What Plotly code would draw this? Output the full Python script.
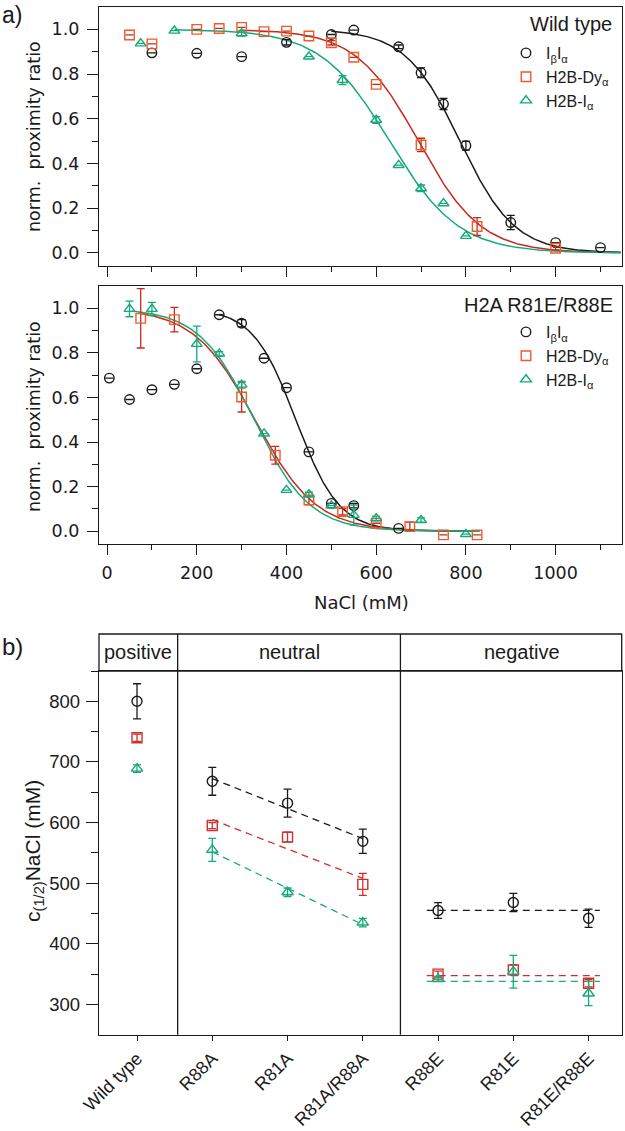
import numpy as np
import plotly.graph_objects as go

N = None  # no visible error bar

# ---------------- Panel a, top: Wild type ----------------
wt_ib_x = [100, 200, 300, 400, 500, 550, 650, 700, 750, 800, 900, 1000, 1100]
wt_ib_y = [0.895, 0.893, 0.878, 0.942, 0.977, 0.997, 0.922, 0.806, 0.666, 0.480, 0.136, 0.046, 0.024]
wt_ib_err = [N, N, N, 0.012, N, N, 0.008, 0.022, 0.025, 0.02, 0.032, N, N]

wt_dy_x = [50, 100, 200, 250, 300, 350, 400, 450, 500, 550, 600, 700, 825, 1000]
wt_dy_y = [0.975, 0.935, 1.0, 1.004, 1.009, 0.99, 0.992, 0.97, 0.94, 0.875, 0.754, 0.483, 0.118, 0.021]
wt_dy_err = [N, N, N, N, N, N, N, N, 0.01, N, N, 0.03, 0.04, 0.008]

wt_i_x = [75, 150, 300, 450, 525, 600, 650, 700, 750, 800]
wt_i_y = [0.937, 0.994, 0.982, 0.878, 0.773, 0.595, 0.393, 0.289, 0.222, 0.076]
wt_i_err = [N, N, 0.012, N, 0.02, 0.015, N, 0.015, N, N]

# sigmoid fit parameters: [midpoint, width, start, end]
wt_fit_ib = [787, 61, 500, 1145]
wt_fit_dy = [694, 70, 300, 1145]
wt_fit_i = [630, 77, 150, 1145]

# ---------------- Panel a, bottom: H2A R81E/R88E ----------------
mu_ib_x = [5, 50, 100, 150, 200, 250, 300, 350, 400, 450, 500, 550, 650]
mu_ib_y = [0.687, 0.591, 0.635, 0.659, 0.729, 0.971, 0.933, 0.776, 0.644, 0.356, 0.125, 0.115, 0.013]
mu_ib_err = [N, N, N, N, N, N, 0.016, N, N, N, N, 0.01, N]

mu_dy_x = [75, 150, 300, 375, 450, 525, 600, 675, 750, 825]
mu_dy_y = [0.955, 0.949, 0.602, 0.341, 0.14, 0.088, 0.036, 0.021, -0.016, -0.016]
mu_dy_err = [0.133, 0.055, 0.067, 0.04, 0.02, 0.015, N, 0.02, N, N]

mu_i_x = [50, 100, 200, 250, 300, 350, 400, 450, 500, 550, 600, 700, 800]
mu_i_y = [0.997, 0.997, 0.84, 0.796, 0.657, 0.438, 0.185, 0.165, 0.115, 0.073, 0.058, 0.05, -0.013]
mu_i_err = [0.035, 0.03, 0.08, 0.01, 0.015, N, N, 0.01, N, 0.045, 0.01, 0.01, N]

mu_fit_ib = [421, 48, 250, 830]
mu_fit_dy = [330, 68, 70, 830]
mu_fit_i = [328, 62, 55, 830]

# ---------------- Panel b ----------------
mutants = ["Wild type", "R88A", "R81A", "R81A/R88A", "R88E", "R81E", "R81E/R88E"]
groups = ["positive", "neutral", "negative"]
c_ib = [800, 668, 632, 569, 455, 468, 442]
c_ib_err = [29, 23, 23, 20, 13, 15, 15]
c_dy = [740, 595, 576, 498, 350, 357, 335]
c_dy_err = [6, 5, 8, 18, 5, 8, 6]
c_i = [689, 555, 485, 435, 342, 354, 318]
c_i_err = [6, 19, 7, 7, 4, 27, 20]

BLACK = "#1a1a1a"
ORANGE = "#EE5B2A"
RED = "#C8291E"
RED_B = "#D0302A"
GREEN = "#16A97A"

W, H = 625, 1131
def px(p):
    return p / W
def py(p):
    return 1 - p / H

def sigmoid(params):
    x0, w, a, b = params
    xs = np.linspace(a, b, 300)
    return xs, 1.0 / (1.0 + np.exp((xs - x0) / w))

fig = go.Figure()

def add_panel(xa, ya, legend, sets):
    for (x, y, err, fit, name, sym, mcol, ecol, lcol) in sets:
        fx, fy = sigmoid(fit)
        fig.add_trace(go.Scatter(x=fx, y=fy, mode="lines", line=dict(color=lcol, width=1.5),
                                 xaxis=xa, yaxis=ya, showlegend=False, hoverinfo="skip"))
    for (x, y, err, fit, name, sym, mcol, ecol, lcol) in sets:
        fig.add_trace(go.Scatter(x=x, y=y, mode="markers", name=name,
                                 marker=dict(symbol=sym, size=9.5, color=mcol, line=dict(width=1.4, color=mcol)),
                                 error_y=dict(type="data", array=err, color=ecol, thickness=1.3, width=4),
                                 xaxis=xa, yaxis=ya, legend=legend))

sets_top = [
    (wt_ib_x, wt_ib_y, wt_ib_err, wt_fit_ib, "I<sub>β</sub>I<sub>α</sub>", "circle-open", BLACK, BLACK, BLACK),
    (wt_dy_x, wt_dy_y, wt_dy_err, wt_fit_dy, "H2B-Dy<sub>α</sub>", "square-open", ORANGE, RED, RED),
    (wt_i_x, wt_i_y, wt_i_err, wt_fit_i, "H2B-I<sub>α</sub>", "triangle-up-open", GREEN, GREEN, GREEN),
]
sets_bot = [
    (mu_ib_x, mu_ib_y, mu_ib_err, mu_fit_ib, "I<sub>β</sub>I<sub>α</sub>", "circle-open", BLACK, BLACK, BLACK),
    (mu_dy_x, mu_dy_y, mu_dy_err, mu_fit_dy, "H2B-Dy<sub>α</sub>", "square-open", ORANGE, RED, RED),
    (mu_i_x, mu_i_y, mu_i_err, mu_fit_i, "H2B-I<sub>α</sub>", "triangle-up-open", GREEN, GREEN, GREEN),
]
add_panel("x", "y", "legend", sets_top)
add_panel("x2", "y2", "legend2", sets_bot)

# Panel b: group trend lines
idx = np.arange(len(mutants))
neutral = idx[1:4]
negative = idx[4:7]
DASH = "7px,5px"
for vals, col in [(c_ib, BLACK), (c_dy, RED_B), (c_i, GREEN)]:
    v = np.array(vals, dtype=float)
    k, b0 = np.polyfit(neutral, v[1:4], 1)
    xs = np.array([neutral[0], neutral[-1]], dtype=float)
    fig.add_trace(go.Scatter(x=xs, y=k * xs + b0, mode="lines", line=dict(color=col, width=1.3, dash=DASH),
                             xaxis="x3", yaxis="y3", showlegend=False, hoverinfo="skip"))
    m = v[4:7].mean()
    xs2 = np.array([negative[0] - 0.15, negative[-1] + 0.15])
    fig.add_trace(go.Scatter(x=xs2, y=[m, m], mode="lines", line=dict(color=col, width=1.3, dash=DASH),
                             xaxis="x3", yaxis="y3", showlegend=False, hoverinfo="skip"))

for vals, err, sym, col in [(c_ib, c_ib_err, "circle-open", BLACK),
                            (c_dy, c_dy_err, "square-open", RED_B),
                            (c_i, c_i_err, "triangle-up-open", GREEN)]:
    fig.add_trace(go.Scatter(x=idx, y=vals, mode="markers",
                             marker=dict(symbol=sym, size=10, color=col, line=dict(width=1.4, color=col)),
                             error_y=dict(type="data", array=err, color=col, thickness=1.3, width=4),
                             xaxis="x3", yaxis="y3", showlegend=False))

AF = "DejaVu Sans"
BF = "Liberation Sans"
common = dict(showline=True, mirror=True, linecolor=BLACK, linewidth=1.3, showgrid=False,
              zeroline=False, ticks="outside", tickcolor=BLACK, tickwidth=1.3, automargin=False)

xdom = [px(99), px(622)]
fig.update_layout(
    width=W, height=H, margin=dict(l=0, r=0, t=0, b=0, autoexpand=False),
    plot_bgcolor="white", paper_bgcolor="white",
    font=dict(family=AF, size=17, color=BLACK),
    xaxis=dict(domain=xdom, anchor="y", range=[-18, 1148], tickvals=list(range(0, 1101, 200)),
               ticklen=10, showticklabels=False,
               minor=dict(tickvals=list(range(100, 1101, 200)), ticklen=5, ticks="outside",
                          tickcolor=BLACK, tickwidth=1.3), **common),
    yaxis=dict(domain=[py(265.7), py(7)], anchor="x", range=[-0.057, 1.10],
               tickvals=[0, 0.2, 0.4, 0.6, 0.8, 1.0], tickformat=".1f", ticklen=11,
               ticklabelstandoff=4,
               minor=dict(tickvals=[0.1, 0.3, 0.5, 0.7, 0.9], ticklen=6, ticks="outside",
                          tickcolor=BLACK, tickwidth=1.3),
               tickfont=dict(family=AF, size=17.5), **common),
    xaxis2=dict(domain=xdom, anchor="y2", range=[-18, 1148], tickvals=list(range(0, 1001, 200)),
                ticklen=10, ticklabelstandoff=3,
                minor=dict(tickvals=list(range(100, 1101, 200)), ticklen=5, ticks="outside",
                           tickcolor=BLACK, tickwidth=1.3),
                tickfont=dict(family=AF, size=17.5), **common),
    yaxis2=dict(domain=[py(544), py(286)], anchor="x2", range=[-0.057, 1.10],
                tickvals=[0, 0.2, 0.4, 0.6, 0.8, 1.0], tickformat=".1f", ticklen=11,
                ticklabelstandoff=4,
                minor=dict(tickvals=[0.1, 0.3, 0.5, 0.7, 0.9], ticklen=6, ticks="outside",
                           tickcolor=BLACK, tickwidth=1.3),
                tickfont=dict(family=AF, size=17.5), **common),
    xaxis3=dict(domain=[px(99), px(621.7)], anchor="y3", range=[-0.505, 6.44],
                tickvals=list(idx), ticktext=mutants, tickangle=-45, ticklen=5,
                tickfont=dict(family=BF, size=18), **common),
    yaxis3=dict(domain=[py(1034.7), py(671)], anchor="x3", range=[250, 850],
                tickvals=[300, 400, 500, 600, 700, 800], ticklen=12, ticklabelstandoff=2,
                minor=dict(tickvals=[350, 450, 550, 650, 750, 850], ticklen=7, ticks="outside",
                           tickcolor=BLACK, tickwidth=1.3),
                tickfont=dict(family=BF, size=18.5), **common),
    legend=dict(x=px(506), xanchor="left", y=py(36), yanchor="top", bgcolor="rgba(0,0,0,0)",
                font=dict(family=BF, size=16, color=BLACK), tracegroupgap=0),
    legend2=dict(x=px(506), xanchor="left", y=py(315), yanchor="top", bgcolor="rgba(0,0,0,0)",
                 font=dict(family=BF, size=16, color=BLACK), tracegroupgap=0),
)

# panel b header box and group dividers
fig.add_shape(type="rect", xref="paper", yref="paper", x0=px(99), x1=px(621.7), y0=py(671), y1=py(634),
              line=dict(color=BLACK, width=1.3))
for xd in [0.54, 3.5]:
    fig.add_shape(type="line", xref="x3", yref="paper", x0=xd, x1=xd, y0=py(1034.7), y1=py(634),
                  line=dict(color=BLACK, width=1.3))

ann = []
for g, xc in zip(groups, [138, 289, 522]):
    ann.append(dict(text=g, x=px(xc), y=py(652.5), xref="paper", yref="paper", showarrow=False,
                    xanchor="center", yanchor="middle", font=dict(family=BF, size=20, color=BLACK)))
ann += [
    dict(text="a)", x=px(0), y=py(15), xref="paper", yref="paper", showarrow=False, xanchor="left",
         yanchor="middle", font=dict(family=BF, size=23, color=BLACK)),
    dict(text="b)", x=px(0), y=py(646), xref="paper", yref="paper", showarrow=False, xanchor="left",
         yanchor="middle", font=dict(family=BF, size=24, color=BLACK)),
    dict(text="Wild type", x=px(614), y=py(24), xref="paper", yref="paper", showarrow=False,
         xanchor="right", yanchor="middle", font=dict(family=BF, size=20, color=BLACK)),
    dict(text="H2A R81E/R88E", x=px(615), y=py(305), xref="paper", yref="paper", showarrow=False,
         xanchor="right", yanchor="middle", font=dict(family=BF, size=20, color=BLACK)),
    dict(text="norm.&nbsp; proximity ratio", x=px(34), y=py(137), xref="paper", yref="paper",
         showarrow=False, textangle=-90, xanchor="center", yanchor="middle",
         font=dict(family=AF, size=17.5, color=BLACK)),
    dict(text="norm.&nbsp; proximity ratio", x=px(34), y=py(417), xref="paper", yref="paper",
         showarrow=False, textangle=-90, xanchor="center", yanchor="middle",
         font=dict(family=AF, size=17.5, color=BLACK)),
    dict(text="NaCl (mM)", x=px(361), y=py(602), xref="paper", yref="paper", showarrow=False,
         xanchor="center", yanchor="middle", font=dict(family=AF, size=18, color=BLACK)),
    dict(text="c<sub>(1/2)</sub>NaCl (mM)", x=px(34), y=py(851), xref="paper", yref="paper",
         showarrow=False, textangle=-90, xanchor="center", yanchor="middle",
         font=dict(family=BF, size=21, color=BLACK)),
]
fig.update_layout(annotations=ann)

fig.write_html("out.html", config={"displayModeBar": False},
               post_script="document.body.style.margin='0';")
